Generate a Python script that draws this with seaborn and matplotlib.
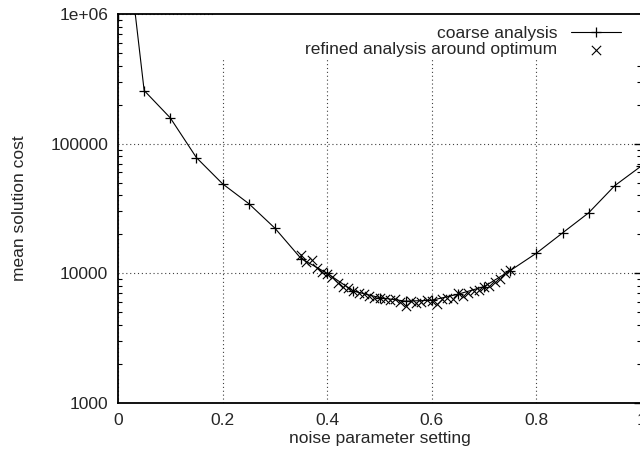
import matplotlib
matplotlib.use("Agg")
import matplotlib.pyplot as plt
import matplotlib.ticker as mticker
import numpy as np
import pandas as pd
import seaborn as sns
from matplotlib.patches import Rectangle

# coarse sweep over the noise parameter
coarse_noise = [0.00, 0.05, 0.10, 0.15, 0.20, 0.25, 0.30, 0.35, 0.40, 0.45,
                0.50, 0.55, 0.60, 0.65, 0.70, 0.75, 0.80, 0.85, 0.90, 0.95, 1.00]
coarse_cost = [14000000, 257000, 158000, 78000, 49000, 34500, 22300, 13000,
               10000, 7300, 6500, 6100, 6200, 6900, 7900, 10500, 14300,
               20500, 29300, 47500, 67000]

# refined sweep around the optimum (step 0.01)
refined_noise = [0.35, 0.36, 0.37, 0.38, 0.39, 0.40, 0.41, 0.42, 0.43, 0.44,
                 0.45, 0.46, 0.47, 0.48, 0.49, 0.50, 0.51, 0.52, 0.53, 0.54,
                 0.55, 0.56, 0.57, 0.58, 0.59, 0.60, 0.61, 0.62, 0.63, 0.64,
                 0.65, 0.66, 0.67, 0.68, 0.69, 0.70, 0.71, 0.72, 0.73, 0.74,
                 0.75]
refined_cost = [13800, 12300, 12600, 11000, 10300, 9800, 9300, 8400, 7900, 7700,
                7300, 7000, 6900, 6700, 6500, 6400, 6300, 6200, 6300, 6000,
                5600, 6100, 5900, 6000, 6200, 6100, 5800, 6300, 6500, 6300,
                7000, 6700, 7100, 7300, 7500, 7800, 8000, 8600, 9100, 10000,
                10600]

x_ticks = [0, 0.2, 0.4, 0.6, 0.8, 1.0]
x_tick_labels = ["0", "0.2", "0.4", "0.6", "0.8", "1"]
y_ticks = [1000, 10000, 100000, 1000000]
y_tick_labels = ["1000", "10000", "100000", "1e+06"]

sns.set_style("white")
plt.rcParams["font.family"] = ["Liberation Sans", "DejaVu Sans"]
plt.rcParams["font.size"] = 12.5

coarse = pd.DataFrame({"noise": coarse_noise, "cost": coarse_cost})
refined = pd.DataFrame({"noise": refined_noise, "cost": refined_cost})

fig = plt.figure(figsize=(6.4, 4.5), dpi=100)
ax = fig.add_axes([118 / 640, 47 / 450, 523 / 640, 389 / 450])

sns.lineplot(data=coarse, x="noise", y="cost", ax=ax, color="black",
             linewidth=0.8, marker="+", markersize=7, markeredgewidth=0.9,
             markeredgecolor="black", label="coarse analysis", zorder=3)
sns.scatterplot(data=refined, x="noise", y="cost", ax=ax, color="black",
                marker="x", s=45, linewidth=0.8,
                label="refined analysis around optimum", zorder=4)

ax.set_yscale("log")
ax.set_xlim(0, 1)
ax.set_ylim(1000, 1000000)
ax.xaxis.set_major_locator(mticker.FixedLocator(x_ticks))
ax.xaxis.set_major_formatter(mticker.FixedFormatter(x_tick_labels))
ax.yaxis.set_major_locator(mticker.FixedLocator(y_ticks))
ax.yaxis.set_major_formatter(mticker.FixedFormatter(y_tick_labels))
ax.yaxis.set_minor_locator(mticker.LogLocator(base=10, subs=range(2, 10)))
ax.yaxis.set_minor_formatter(mticker.NullFormatter())
ax.xaxis.set_minor_locator(mticker.NullLocator())

ax.tick_params(which="major", direction="in", length=5, width=1,
               top=True, right=True, color="black", labelsize=12.5, pad=7)
ax.tick_params(which="minor", direction="in", length=3, width=0.8,
               left=True, right=True, color="black")

ax.set_axisbelow(True)
ax.grid(True, which="major", color="0.25", linestyle=(0, (1, 2.5)),
        linewidth=0.8)
for spine in ax.spines.values():
    spine.set_visible(True)
    spine.set_color("black")
    spine.set_linewidth(1.3)

ax.set_xlabel("noise parameter setting", fontsize=12.5, labelpad=2)
ax.set_ylabel("mean solution cost", fontsize=12.5, labelpad=17)

# key area hides the grid like gnuplot's key box
ax.add_patch(Rectangle((0.185, 0.882), 0.815, 0.118, transform=ax.transAxes,
                       facecolor="white", edgecolor="none", zorder=1))

# markerfirst=False right-aligns the rows, so the labels end at the samples
ax.legend(loc="upper right", bbox_to_anchor=(0.9765, 0.99),
          borderaxespad=0, borderpad=0.45, frameon=False,
          markerfirst=False, numpoints=1, scatterpoints=1,
          handlelength=2.9, handletextpad=0.75, labelspacing=0.07,
          fontsize=12.5)

fig.savefig("out.png", dpi=100)
